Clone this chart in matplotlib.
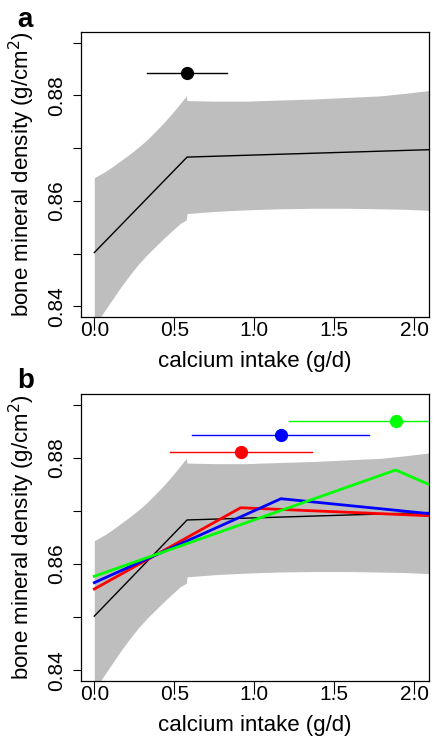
import matplotlib
matplotlib.use("Agg")
import matplotlib.pyplot as plt

plt.rcParams["font.family"] = ["Liberation Sans", "DejaVu Sans"]

# fitted broken-stick curve (black) and its confidence band (grey)
mid_x = [0.0, 0.58, 2.2]
mid_y = [0.8502, 0.8683, 0.8698]

band_x = [0.0, 0.065, 0.119, 0.169, 0.223, 0.273, 0.327, 0.377, 0.431, 0.481, 0.536, 0.575,
          0.58, 0.75, 0.95, 1.15, 1.37, 1.58, 1.79, 1.95, 2.09, 2.2]
band_upper = [0.8644, 0.8655, 0.8666, 0.8677, 0.8689, 0.8701, 0.8715, 0.8730, 0.8747, 0.8764,
              0.8784, 0.8799,
              0.8790, 0.8789, 0.8789, 0.8791, 0.8793, 0.8796, 0.8799, 0.8804, 0.8809, 0.8813]
band_lower = [0.8362, 0.8392, 0.8416, 0.8438, 0.8460, 0.8479, 0.8497, 0.8512, 0.8528, 0.8542,
              0.8557, 0.8564,
              0.8576, 0.8580, 0.8583, 0.8585, 0.8586, 0.8586, 0.8585, 0.8584, 0.8582, 0.8581]

# breakpoint estimate with interval, panel a
bp_a = (0.581, 0.8842, 0.331, 0.8275)

# panel b: alternative fits (x of start / breakpoint / end, y values)
fits_b = {
    "red":   ([0.0, 0.915, 2.09], [0.8553, 0.8706, 0.8691]),
    "blue":  ([0.0, 1.167, 2.09], [0.8565, 0.8723, 0.8695]),
    "#00ff00": ([0.0, 1.884, 2.09], [0.8577, 0.8777, 0.8750]),
}
bp_b = {
    "red":   (0.915, 0.8811, 0.475, 1.359),
    "blue":  (1.167, 0.8842, 0.6125, 1.717),
    "#00ff00": (1.884, 0.8870, 1.219, 2.55),
}

xticks = [0.0, 0.5, 1.0, 1.5, 2.0]
xtick_labels = ["0.0", "0.5", "1.0", "1.5", "2.0"]
yticks = [0.84, 0.85, 0.86, 0.87, 0.88, 0.89]
ytick_labels = ["0.84", "", "0.86", "", "0.88", ""]

W, H = 434, 739
fig = plt.figure(figsize=(W / 100, H / 100), dpi=100)


def px_axes(left, top, right, bottom):
    return fig.add_axes([left / W, 1 - bottom / H, (right - left) / W, (bottom - top) / H])


def base(ax):
    ax.fill_between(band_x, band_lower, band_upper, color="#bebebe", lw=0, zorder=1)
    ax.plot(mid_x, mid_y, color="black", lw=1.0, zorder=2)
    ax.set_xlim(-0.083, 2.092)
    ax.set_ylim(0.838, 0.892)
    ax.set_xticks(xticks)
    ax.set_xticklabels(xtick_labels)
    ax.set_yticks(yticks)
    ax.set_yticklabels(ytick_labels, rotation=90, va="center")
    ax.tick_params(axis="x", length=9, width=0.8, pad=-6, labelsize=15)
    ax.tick_params(axis="y", length=6, width=0.8, pad=5, labelsize=15)
    for s in ax.spines.values():
        s.set_linewidth(0.9)
    ax.set_xlabel("calcium intake (g/d)", fontsize=16)
    ax.set_ylabel("bone mineral density (g/cm$^2$)", fontsize=16)
    ax.xaxis.set_label_coords(0.5, -0.118)
    ax.yaxis.set_label_coords(-0.127, 0.503)


ax_a = px_axes(81, 32, 429, 317)
base(ax_a)
x, y, lo, hi = bp_a
ax_a.plot([lo, hi], [y, y], color="black", lw=1.0, zorder=3)
ax_a.plot([x], [y], "o", color="black", ms=8.5, zorder=4)

ax_b = px_axes(81, 394, 429, 681)
base(ax_b)
for c, (fx, fy) in fits_b.items():
    ax_b.plot(fx, fy, color=c, lw=2.0, zorder=3)
for c, (x, y, lo, hi) in bp_b.items():
    ax_b.plot([lo, hi], [y, y], color=c, lw=1.0, zorder=3)
    ax_b.plot([x], [y], "o", color=c, ms=8.5, zorder=4)

fig.text(17 / W, 1 - 27 / H, "a", fontsize=20, fontweight="bold", va="baseline", ha="left")
fig.text(17 / W, 1 - 388 / H, "b", fontsize=20, fontweight="bold", va="baseline", ha="left")

fig.savefig("out.png", dpi=100)
